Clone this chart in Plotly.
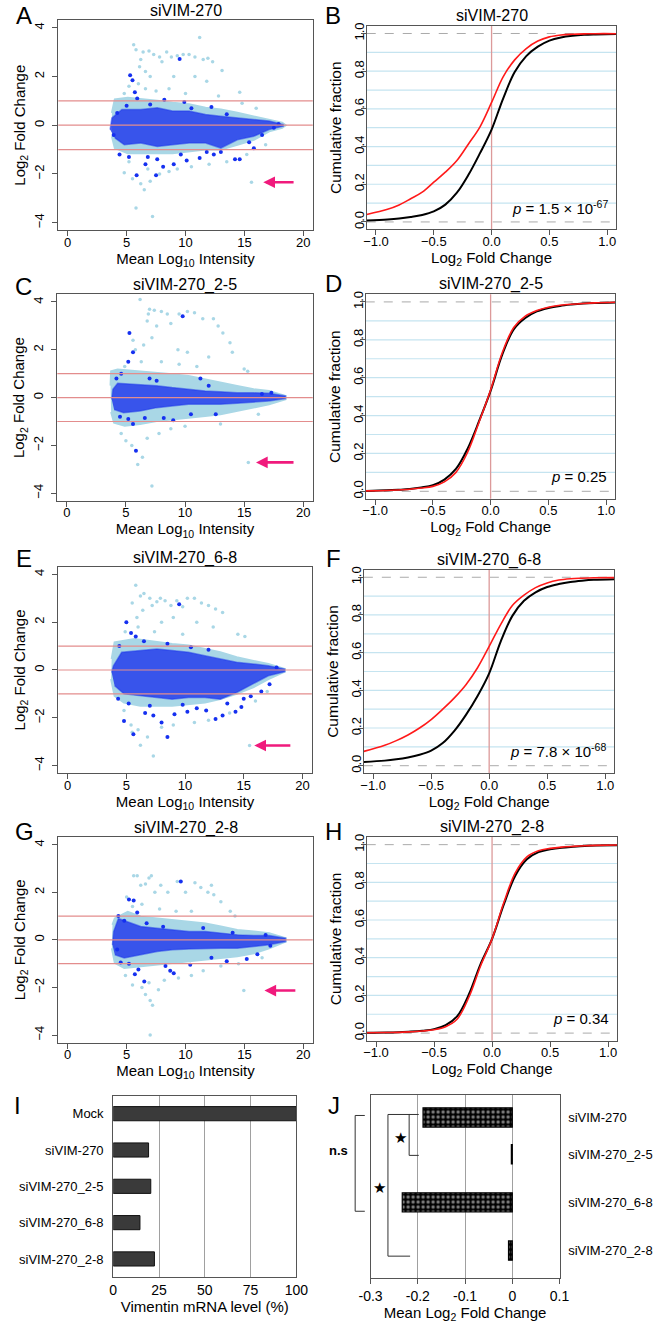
import plotly.graph_objects as go

W, H = 666, 1323
FONT = "Liberation Sans, Arial, Helvetica, sans-serif"


def fx(p):
    return p / W


def fy(p):
    return 1 - p / H


# ---------------------------------------------------------------- data
ma_titles = ["siVIM-270", "siVIM-270_2-5", "siVIM-270_6-8", "siVIM-270_2-8"]
p_texts = ["<i>p</i> = 1.5 × 10<sup>-67</sup>", "<i>p</i> = 0.25",
           "<i>p</i> = 7.8 × 10<sup>-68</sup>", "<i>p</i> = 0.34"]

# --- MA plot A (siVIM-270)
A_cloud_x = [3.75, 4.0, 5.1, 6.2, 7.6, 8.9, 10.3, 11.7, 13.0, 14.4, 15.8, 17.1, 18.2, 18.5,
             18.2, 17.1, 15.8, 14.4, 13.0, 11.7, 10.3, 8.9, 7.6, 6.2, 5.1, 4.0, 3.75]
A_cloud_y = [0.5, 1.06, 1.13, 1.06, 1.0, 0.92, 0.86, 0.72, 0.65, 0.51, 0.37, 0.23, 0.1, 0.0,
             -0.11, -0.25, -0.6, -0.8, -1.0, -1.0, -1.07, -1.15, -1.15, -1.15, -1.15, -0.94, -0.45]
A_core_x = [3.6, 3.75, 4.6, 6.2, 7.6, 8.9, 10.3, 11.7, 13.0, 14.4, 15.8, 17.1, 18.3,
            18.3, 17.1, 15.8, 14.4, 13.0, 11.7, 10.3, 8.9, 7.6, 6.2, 4.8, 4.0]
A_core_y = [-0.18, 0.3, 0.65, 0.65, 0.72, 0.58, 0.58, 0.44, 0.37, 0.3, 0.23, 0.17, 0.03,
            -0.04, -0.18, -0.45, -0.6, -0.94, -0.73, -0.73, -0.8, -0.87, -0.73, -0.8, -0.52]
A_light_x = [11.2, 5.6, 5.8, 6.4, 6.9, 7.3, 7.8, 8.4, 8.8, 9.3, 9.8, 10.3, 10.8, 11.5, 11.9, 12.3,
             13.1, 6.1, 6.2, 6.6, 7.0, 8.0, 9.0, 10.8, 11.8, 14.6, 4.8, 5.2, 6.0, 6.6, 7.5, 8.6,
             10.0, 12.8, 5.8, 7.2, 6.5, 6.2, 4.8, 5.5, 7.0, 7.8, 8.6, 9.3, 12.0, 15.6, 5.2, 6.8,
             10.5, 13.5, 15.2, 16.8, 14.8, 16.0]
A_light_y = [3.6, 3.3, 3.1, 3.0, 3.05, 2.9, 2.8, 3.0, 2.8, 2.85, 2.9, 2.9, 2.8, 2.7, 2.75, 2.6,
             2.25, 2.4, 2.7, 2.2, 2.0, 2.6, 2.0, 2.0, 1.8, 1.35, 1.3, 1.6, 1.7, 1.5, 1.4, 1.5,
             1.3, 1.2, -3.4, -3.75, -2.65, -2.4, -1.95, -2.2, -2.3, -2.0, -1.9, -1.8, -1.6, -2.34,
             -1.5, -1.8, -1.7, -1.5, -1.2, -0.8, 0.9, 0.7]
A_dark_x = [5.3, 5.5, 5.7, 5.9, 9.5, 8.2, 9.9, 12.2, 4.4, 5.2, 5.85, 6.6, 7.5, 8.1, 9.0, 10.1,
            11.2, 12.4, 13.0, 14.2, 14.6, 15.8, 15.4, 16.5, 17.5, 17.9, 6.8, 7.6, 9.6, 11.8,
            4.2, 5.0, 7.0, 10.5, 13.5, 3.9]
A_dark_y = [2.05, 1.85, 1.35, 1.1, 2.72, 1.05, 0.95, 0.75, -1.2, -1.3, -2.05, -1.6, -2.05, -1.7,
            -1.6, -1.45, -1.35, -1.2, -1.1, -1.4, -1.4, -0.95, -0.7, -0.4, -0.1, 0.05, -1.3,
            -1.4, -1.2, -1.1, 0.5, 0.8, 0.85, 0.7, 0.45, -0.4]

# --- MA plot C (siVIM-270_2-5)
C_cloud_x = [3.7, 3.75, 4.3, 6.2, 7.6, 8.9, 10.3, 11.7, 13.0, 14.4, 15.8, 17.1, 18.5,
             18.5, 17.1, 15.8, 14.4, 13.0, 11.7, 10.3, 8.9, 7.6, 6.2, 4.9, 4.0, 3.75]
C_cloud_y = [0.5, 1.1, 1.18, 1.1, 1.05, 0.98, 0.9, 0.77, 0.63, 0.49, 0.35, 0.28, 0.07,
             -0.07, -0.28, -0.42, -0.56, -0.7, -0.77, -0.84, -0.9, -0.98, -1.1, -1.18, -1.05, -0.6]
C_core_x = [3.8, 3.9, 4.3, 6.2, 7.6, 8.9, 10.3, 11.7, 13.0, 14.4, 15.8, 17.1, 18.5,
            18.5, 17.1, 15.8, 14.4, 13.0, 11.7, 10.3, 8.9, 7.6, 6.2, 4.8, 4.0]
C_core_y = [-0.07, 0.35, 0.6, 0.55, 0.5, 0.42, 0.35, 0.28, 0.25, 0.2, 0.2, 0.18, 0.07,
            -0.04, -0.14, -0.2, -0.24, -0.28, -0.28, -0.28, -0.35, -0.42, -0.56, -0.63, -0.5]
C_light_x = [6.2, 7.0, 7.4, 6.9, 8.0, 8.5, 9.5, 10.2, 10.8, 11.5, 12.4, 12.8, 13.2, 13.8, 6.8,
             7.6, 8.8, 5.6, 5.8, 6.5, 7.2, 9.4, 10.2, 12.0, 14.0, 15.0, 15.3, 4.9, 6.3, 8.0,
             9.5, 11.0, 5.0, 5.5, 6.0, 6.4, 7.2, 6.8, 7.8, 8.8, 10.0, 15.35, 4.6, 13.0, 16.2]
C_light_y = [4.1, 3.7, 3.65, 3.5, 3.6, 3.5, 3.5, 3.6, 3.55, 3.3, 3.3, 3.0, 2.7, 2.3, 3.2,
             3.0, 3.1, 2.4, 2.0, 2.2, 2.5, 2.0, 1.9, 1.7, 1.9, 1.2, 1.1, 1.3, 1.5, 1.5,
             1.4, 1.3, -1.8, -2.0, -2.8, -2.5, -3.7, -1.7, -1.5, -1.3, -1.2, -2.71, -1.5, -1.1, -0.7]
C_dark_x = [5.3, 5.6, 5.2, 9.8, 4.6, 5.85, 5.6, 5.2, 9.0, 8.2, 11.3, 7.6, 6.6, 12.6, 12.0,
            16.5, 17.3, 4.2, 4.5, 10.5, 7.0]
C_dark_y = [2.7, 1.9, 1.5, 3.4, 1.0, -2.22, -1.1, -0.9, -0.95, -0.85, 0.8, 0.7, -0.85, -0.7,
            0.5, 0.15, 0.2, 0.8, -0.8, -0.7, 0.8]

# --- MA plot E (siVIM-270_6-8)
E_cloud_x = [3.75, 4.0, 5.7, 7.6, 8.9, 10.3, 11.7, 13.0, 14.4, 15.8, 17.1, 18.5,
             18.5, 17.1, 15.8, 14.4, 13.0, 11.7, 10.3, 8.9, 7.6, 6.2, 4.8, 4.0, 3.7]
E_cloud_y = [0.46, 1.16, 1.3, 1.16, 1.09, 1.02, 0.88, 0.74, 0.53, 0.39, 0.25, 0.04,
             -0.07, -0.38, -0.73, -1.0, -1.22, -1.36, -1.43, -1.5, -1.5, -1.5, -1.36, -1.08, -0.38]
E_core_x = [3.75, 3.9, 4.6, 6.2, 7.6, 8.9, 10.3, 11.7, 13.0, 14.4, 15.8, 17.1, 18.5,
            18.5, 17.1, 15.8, 14.4, 13.0, 11.7, 10.3, 8.9, 7.6, 6.2, 4.8, 4.0]
E_core_y = [-0.1, 0.18, 0.74, 0.81, 0.88, 0.81, 0.74, 0.6, 0.46, 0.32, 0.25, 0.18, 0.04,
            -0.07, -0.24, -0.59, -0.94, -1.22, -1.15, -1.15, -1.22, -1.15, -1.08, -1.0, -0.66]
E_light_x = [5.8, 6.2, 6.5, 7.0, 7.6, 7.9, 8.3, 8.8, 9.3, 9.8, 10.2, 10.8, 11.4, 12.0, 12.6,
             13.2, 5.5, 5.9, 6.4, 7.2, 8.0, 9.0, 11.0, 12.4, 14.5, 15.1, 4.9, 6.0, 7.4, 9.8,
             5.4, 5.5, 6.0, 6.2, 7.3, 6.8, 8.0, 9.0, 10.8, 12.0, 15.5, 4.8, 13.8, 16.0, 17.0]
E_light_y = [3.55, 3.1, 3.2, 3.0, 2.85, 3.0, 2.9, 2.7, 2.9, 2.65, 3.0, 3.0, 2.8, 2.7, 2.55,
             2.4, 2.8, 2.2, 2.5, 2.7, 2.0, 2.2, 2.0, 1.8, 1.5, 1.4, 1.6, 1.8, 1.6, 1.5,
             -2.3, -2.6, -2.5, -3.15, -3.6, -2.8, -2.4, -2.3, -2.2, -2.1, -3.16, -1.7, -1.8, -1.3, -0.9]
E_dark_x = [5.0, 5.4, 5.8, 9.5, 4.4, 6.5, 8.5, 10.5, 12.0, 4.8, 5.6, 8.5, 8.0, 6.6, 7.3, 9.1,
            10.2, 11.0, 12.6, 13.2, 14.3, 14.8, 15.6, 16.5, 17.2, 15.0, 11.8, 9.8, 7.0, 5.2,
            4.3, 13.6, 17.8]
E_dark_y = [2.0, 1.55, 1.4, 2.75, 1.0, 1.2, 1.1, 0.95, 0.85, -2.13, -2.69, -2.8, -2.2, -1.8,
            -1.9, -1.85, -1.75, -1.6, -2.05, -1.9, -1.75, -1.55, -1.1, -0.9, -0.6, -1.2, -1.7,
            -1.45, -1.5, -1.4, -1.2, -1.4, 0.1]

# --- MA plot G (siVIM-270_2-8)
G_cloud_x = [3.8, 4.0, 5.1, 6.2, 7.6, 8.9, 10.3, 11.7, 13.0, 14.4, 15.8, 17.1, 18.5,
             18.5, 17.1, 15.8, 14.4, 13.0, 11.7, 10.3, 8.9, 7.6, 6.2, 4.8, 4.0, 3.75]
G_cloud_y = [0.63, 0.9, 1.18, 0.97, 0.9, 0.83, 0.76, 0.69, 0.56, 0.42, 0.35, 0.28, 0.07,
             -0.07, -0.35, -0.56, -0.69, -0.76, -0.83, -0.9, -0.97, -1.04, -1.1, -1.18, -0.97, -0.35]
G_core_x = [3.8, 3.9, 4.3, 5.1, 6.2, 7.6, 8.9, 10.3, 11.7, 13.0, 14.4, 15.8, 17.1, 18.5,
            18.5, 17.1, 15.8, 14.4, 13.0, 11.7, 10.3, 8.9, 7.6, 6.2, 4.8, 4.0]
G_core_y = [-0.21, 0.35, 0.9, 0.76, 0.56, 0.49, 0.42, 0.35, 0.35, 0.28, 0.21, 0.18, 0.18, 0.07,
            -0.07, -0.21, -0.28, -0.35, -0.35, -0.35, -0.38, -0.42, -0.49, -0.63, -0.76, -0.63]
G_light_x = [5.6, 5.9, 6.2, 6.9, 6.6, 7.1, 7.4, 7.9, 8.5, 9.3, 10.0, 10.8, 11.3, 11.9, 12.2,
             13.0, 12.4, 13.8, 14.2, 5.0, 5.5, 6.3, 7.8, 9.2, 10.5, 4.9, 5.5, 6.3, 6.6, 7.0,
             7.2, 6.9, 7.7, 8.2, 9.4, 10.5, 11.5, 14.95, 7.0, 13.0, 16.5, 14.5]
G_light_y = [2.7, 2.7, 2.3, 2.6, 2.35, 2.7, 2.0, 2.3, 2.0, 2.45, 2.0, 2.4, 2.2, 2.0, 2.3,
             1.6, 1.9, 1.2, 1.0, 1.8, 1.4, 1.5, 1.3, 1.2, 1.2, -1.5, -1.9, -2.0, -2.3, -2.55,
             -2.75, -1.8, -2.1, -1.7, -1.6, -1.5, -1.3, -2.13, -4.0, -1.1, -0.75, -1.0]
G_dark_x = [4.3, 5.2, 5.6, 5.9, 9.6, 4.8, 6.7, 8.1, 11.5, 4.5, 5.2, 6.0, 6.5, 5.7, 8.3, 8.7,
            9.0, 10.4, 12.2, 13.5, 15.2, 16.1, 17.2, 16.8, 14.0, 4.2]
G_dark_y = [1.0, 1.7, 1.65, 1.15, 2.45, 0.8, 0.7, 0.55, 0.5, -0.95, -1.0, -1.25, -1.75, -1.45,
            -1.1, -1.3, -1.4, -1.05, -0.75, -0.9, -0.8, -0.6, -0.25, 0.2, 0.3, -0.4]

# arrows marking vimentin: (tail x, head x, y)
arrow_tail_x = [19.3, 19.3, 19.1, 19.45]
arrow_head_x = [16.6, 16.0, 15.9, 16.7]
arrow_y = [-2.34, -2.71, -3.16, -2.13]

# --- cumulative distributions (B, D, F, H)
cdf_x = [-1.08, -0.9, -0.8, -0.7, -0.6, -0.5, -0.4, -0.3, -0.2, -0.1, 0.0,
         0.1, 0.2, 0.3, 0.4, 0.5, 0.6, 0.7, 0.8, 0.9, 1.08]
B_red = [0.04, 0.067, 0.09, 0.123, 0.158, 0.211, 0.264, 0.326, 0.414, 0.505, 0.634,
         0.77, 0.86, 0.92, 0.96, 0.982, 0.992, 0.996, 0.998, 0.999, 0.999]
B_black = [0.008, 0.013, 0.018, 0.026, 0.037, 0.056, 0.092, 0.155, 0.25, 0.365, 0.49,
           0.655, 0.795, 0.88, 0.93, 0.962, 0.979, 0.988, 0.993, 0.995, 0.997]
D_red = [0.002, 0.004, 0.007, 0.011, 0.017, 0.026, 0.05, 0.1, 0.205, 0.365, 0.535,
         0.73, 0.865, 0.925, 0.955, 0.972, 0.982, 0.988, 0.992, 0.995, 0.998]
D_black = [0.002, 0.005, 0.008, 0.012, 0.02, 0.032, 0.062, 0.118, 0.224, 0.37, 0.53,
           0.72, 0.855, 0.915, 0.95, 0.968, 0.979, 0.986, 0.991, 0.994, 0.997]
F_red = [0.076, 0.108, 0.133, 0.163, 0.2, 0.245, 0.3, 0.36, 0.43, 0.52, 0.633,
         0.75, 0.85, 0.905, 0.945, 0.97, 0.985, 0.992, 0.995, 0.997, 0.998]
F_black = [0.02, 0.027, 0.034, 0.044, 0.058, 0.08, 0.12, 0.185, 0.27, 0.37, 0.49,
           0.66, 0.795, 0.875, 0.92, 0.948, 0.964, 0.975, 0.982, 0.987, 0.99]
H_red = [0.002, 0.003, 0.004, 0.007, 0.011, 0.018, 0.034, 0.075, 0.19, 0.355, 0.5,
         0.69, 0.85, 0.935, 0.968, 0.98, 0.987, 0.991, 0.994, 0.996, 0.998]
H_black = [0.002, 0.003, 0.005, 0.008, 0.013, 0.021, 0.042, 0.09, 0.205, 0.365, 0.5,
           0.68, 0.835, 0.922, 0.96, 0.975, 0.984, 0.989, 0.993, 0.995, 0.997]

# --- panel I
I_labels = ["Mock", "siVIM-270", "siVIM-270_2-5", "siVIM-270_6-8", "siVIM-270_2-8"]
I_values = [100, 19.3, 20.5, 14.6, 22.5]

# --- panel J
J_labels = ["siVIM-270", "siVIM-270_2-5", "siVIM-270_6-8", "siVIM-270_2-8"]
J_values = [-0.189, -0.002, -0.233, -0.008]

# ---------------------------------------------------------------- layout helpers
fig = go.Figure()
layout = {}
shapes = []
annotations = []

LIGHT = "#a9d7e6"
DARK = "#1530f0"


def sid(k):
    return "" if k == 1 else str(k)


def base_axis(**kw):
    d = dict(showline=True, mirror=True, linecolor="#555555", linewidth=1,
             ticks="outside", ticklen=5, tickcolor="#555555", showgrid=False,
             zeroline=False, tickfont=dict(size=13, family=FONT, color="black"),
             title_font=dict(size=15, family=FONT, color="black"))
    d.update(kw)
    return d


def paper_text(x, y, text, size, family=FONT):
    annotations.append(dict(x=fx(x), y=fy(y), xref="paper", yref="paper", text=text,
                            xanchor="center", yanchor="middle", showarrow=False,
                            font=dict(size=size, family=family, color="black")))


def add_ma(k, box, cx, cy, kx, ky, lx, ly, dx, dy, i):
    x0, x1, y0, y1 = box
    s = sid(k)
    xa, ya = "x" + s, "y" + s
    layout["xaxis" + s] = base_axis(domain=[fx(x0), fx(x1)], range=[-0.8, 20.8],
                                    tickvals=[0, 5, 10, 15, 20], anchor=ya,
                                    ticklabelstandoff=-5,
                                    title=dict(text="Mean Log<sub>10</sub> Intensity", standoff=0))
    layout["yaxis" + s] = base_axis(domain=[fy(y1), fy(y0)], range=[-4.32, 4.32],
                                    tickvals=[-4, -2, 0, 2, 4], tickangle=-90, anchor=xa,
                                    ticklabelstandoff=3,
                                    title=dict(text="Log<sub>2</sub> Fold Change", standoff=2))
    fig.add_trace(go.Scatter(x=cx, y=cy, xaxis=xa, yaxis=ya, mode="lines", fill="toself",
                             fillcolor=LIGHT, line=dict(color=LIGHT, width=2), hoverinfo="skip"))
    fig.add_trace(go.Scatter(x=lx, y=ly, xaxis=xa, yaxis=ya, mode="markers",
                             marker=dict(color=LIGHT, size=3.5)))
    fig.add_trace(go.Scatter(x=kx, y=ky, xaxis=xa, yaxis=ya, mode="lines", fill="toself",
                             fillcolor="rgba(30,55,235,0.82)", line=dict(color="rgba(30,55,235,0.5)", width=1.5),
                             hoverinfo="skip"))
    fig.add_trace(go.Scatter(x=dx, y=dy, xaxis=xa, yaxis=ya, mode="markers",
                             marker=dict(color=DARK, size=4)))
    for yv in (-1, 0, 1):
        shapes.append(dict(type="line", xref=xa + " domain", x0=0, x1=1, yref=ya, y0=yv, y1=yv,
                           line=dict(color="#e38d8d", width=1.2), layer="above"))
    annotations.append(dict(x=arrow_head_x[i], y=arrow_y[i], ax=arrow_tail_x[i], ay=arrow_y[i],
                            xref=xa, yref=ya, axref=xa, ayref=ya, text="", showarrow=True,
                            arrowhead=2, arrowsize=0.9, arrowwidth=2.6, arrowcolor="#f01a7c"))
    paper_text((x0 + x1) / 2, y0 - 9, ma_titles[i], 16)


def add_cdf(k, box, red, black, i):
    x0, x1, y0, y1 = box
    s = sid(k)
    xa, ya = "x" + s, "y" + s
    layout["xaxis" + s] = base_axis(domain=[fx(x0), fx(x1)], range=[-1.08, 1.08],
                                    tickvals=[-1, -0.5, 0, 0.5, 1], tickformat=".1f", anchor=ya,
                                    ticklabelstandoff=-5,
                                    title=dict(text="Log<sub>2</sub> Fold Change", standoff=0))
    layout["yaxis" + s] = base_axis(domain=[fy(y1), fy(y0)], range=[-0.04, 1.04],
                                    tickvals=[0, 0.2, 0.4, 0.6, 0.8, 1.0], tickformat=".1f",
                                    tickangle=-90, anchor=xa, ticklabelstandoff=-8,
                                    title=dict(text="Cumulative fraction", standoff=6,
                                               font=dict(size=15.5, family=FONT, color="black")))
    for g in range(1, 10):
        shapes.append(dict(type="line", xref=xa + " domain", x0=0, x1=1, yref=ya, y0=g / 10,
                           y1=g / 10, line=dict(color="#c5e4f0", width=1.2), layer="below"))
    for g in (0, 1):
        shapes.append(dict(type="line", xref=xa + " domain", x0=0, x1=1, yref=ya, y0=g, y1=g,
                           line=dict(color="#aaaaaa", width=1, dash="dash"), layer="below"))
    shapes.append(dict(type="line", yref=ya + " domain", y0=0, y1=1, xref=xa, x0=0, x1=0,
                       line=dict(color="#dc9a9a", width=1.3), layer="below"))
    fig.add_trace(go.Scatter(x=cdf_x, y=black, xaxis=xa, yaxis=ya, mode="lines",
                             line=dict(color="black", width=2, shape="spline", smoothing=1.0)))
    fig.add_trace(go.Scatter(x=cdf_x, y=red, xaxis=xa, yaxis=ya, mode="lines",
                             line=dict(color="#ff1a1a", width=1.6, shape="spline", smoothing=1.0)))
    annotations.append(dict(x=0.975, y=0.11, xref=xa + " domain", yref=ya + " domain",
                            xanchor="right", yanchor="middle", text=p_texts[i], showarrow=False,
                            font=dict(size=15, family=FONT, color="black")))
    paper_text((x0 + x1) / 2, y0 - 10, ma_titles[i], 16)


# ---------------------------------------------------------------- panels A-H
add_ma(1, (48, 312, 17, 228), A_cloud_x, A_cloud_y, A_core_x, A_core_y,
       A_light_x, A_light_y, A_dark_x, A_dark_y, 0)
add_cdf(2, (368, 627, 23, 227), B_red, B_black, 0)
add_ma(3, (47, 312, 292, 499), C_cloud_x, C_cloud_y, C_core_x, C_core_y,
       C_light_x, C_light_y, C_dark_x, C_dark_y, 1)
add_cdf(4, (367, 626, 292, 497), D_red, D_black, 1)
add_ma(5, (48, 311, 565, 772), E_cloud_x, E_cloud_y, E_core_x, E_core_y,
       E_light_x, E_light_y, E_dark_x, E_dark_y, 2)
add_cdf(6, (365, 625, 568, 772), F_red, F_black, 2)
add_ma(7, (48, 312, 836, 1042), G_cloud_x, G_cloud_y, G_core_x, G_core_y,
       G_light_x, G_light_y, G_dark_x, G_dark_y, 3)
add_cdf(8, (368, 628, 836, 1040), H_red, H_black, 3)

# ---------------------------------------------------------------- panel I
I_rows = [0, 1, 2, 3, 4]
layout["xaxis9"] = base_axis(domain=[fx(105), fx(295)], range=[0, 100],
                             tickvals=[0, 25, 50, 75, 100], anchor="y9", ticks="",
                             showgrid=True, gridcolor="#a0a0a0", gridwidth=1,
                             tickfont=dict(size=14, family=FONT, color="black"),
                             title=dict(text="Vimentin mRNA level (%)", standoff=4))
layout["yaxis9"] = base_axis(domain=[fy(1277), fy(1095)], range=[4.5, -0.5],
                             tickvals=I_rows, ticktext=I_labels, ticks="", anchor="x9",
                             ticklabelstandoff=6,
                             tickfont=dict(size=13, family=FONT, color="black"))
fig.add_trace(go.Bar(x=I_values, y=I_rows, orientation="h", xaxis="x9", yaxis="y9", width=0.39,
                     marker=dict(color="#3a3a3a", line=dict(color="#111111", width=1))))

# ---------------------------------------------------------------- panel J
J_rows = [0, 0.8, 1.85, 2.9]
layout["xaxis10"] = base_axis(domain=[fx(372), fx(568)], range=[-0.3, 0.1],
                              tickvals=[-0.3, -0.2, -0.1, 0, 0.1],
                              ticktext=["-0.3", "-0.2", "-0.1", "0", "0.1"], anchor="y10",
                              ticks="outside", showgrid=True, gridcolor="#a0a0a0", gridwidth=1,
                              tickfont=dict(size=14, family=FONT, color="black"),
                              title=dict(text="Mean Log<sub>2</sub> Fold Change", standoff=4))
layout["yaxis10"] = base_axis(domain=[fy(1278), fy(1094)], range=[3.5, -0.5], side="right",
                              tickvals=J_rows, ticktext=J_labels, ticks="", anchor="x10",
                              ticklabelstandoff=5,
                              tickfont=dict(size=13, family=FONT, color="black"))
fig.add_trace(go.Bar(x=J_values, y=J_rows, orientation="h", xaxis="x10", yaxis="y10", width=0.42,
                     marker=dict(color="black", line=dict(color="black", width=1.2),
                                 pattern=dict(shape=".", fgcolor="white", bgcolor="black",
                                              size=5, solidity=0.35))))


# significance brackets in panel J (pixel positions)
def bracket(xv, xa_, ytop, ybot):
    for seg in ((xv, ytop, xv, ybot), (xv, ytop, xa_, ytop), (xv, ybot, xa_, ybot)):
        shapes.append(dict(type="line", xref="paper", yref="paper", x0=fx(seg[0]), y0=fy(seg[1]),
                           x1=fx(seg[2]), y1=fy(seg[3]), line=dict(color="#333333", width=1)))


bracket(356, 366, 1115, 1211)
bracket(390, 413, 1114, 1256)
bracket(412, 422, 1114, 1155)
paper_text(403, 1138, "★", 15, "DejaVu Sans")
paper_text(381, 1188, "★", 15, "DejaVu Sans")
paper_text(339, 1150, "<b>n.s</b>", 13)

# panel letters
letters = [("A", 12, 13), ("B", 333, 13), ("C", 12, 284), ("D", 333, 281), ("E", 12, 557),
           ("F", 333, 557), ("G", 13, 830), ("H", 334, 830), ("I", 6, 1105), ("J", 334, 1105)]
for t, lx_, ly_ in letters:
    paper_text(lx_, ly_, t, 24)

fig.update_layout(width=W, height=H, margin=dict(l=0, r=0, t=0, b=0), showlegend=False,
                  plot_bgcolor="white", paper_bgcolor="white", shapes=shapes,
                  annotations=annotations, font=dict(family=FONT, color="black"), **layout)

fig.write_html("out.html", config={"displayModeBar": False},
               post_script="document.body.style.margin='0px';document.body.style.overflow='hidden';")
